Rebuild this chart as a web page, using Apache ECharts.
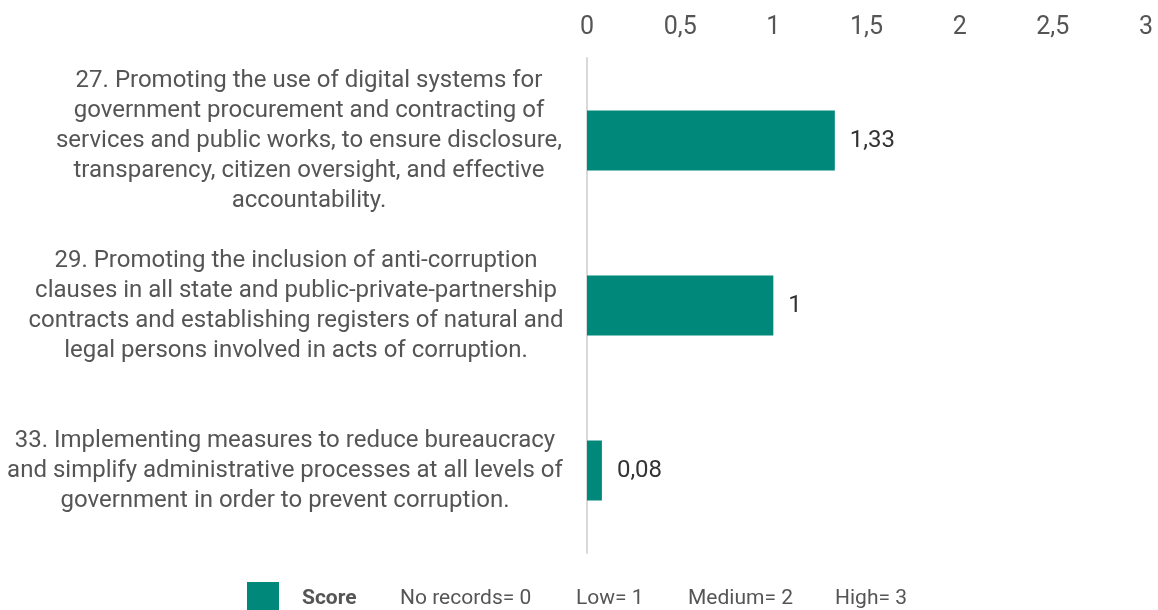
<!DOCTYPE html>
<html>
<head>
<meta charset="utf-8">
<script src="https://cdn.jsdelivr.net/npm/echarts@6/dist/echarts.min.js"></script>
<style>
  html, body { margin: 0; padding: 0; background: #ffffff; }
  #chart { width: 1158px; height: 610px; }
</style>
</head>
<body>
<div id="chart"></div>
<script>
// Measures, wrapped into lines as they are printed beside the bars
const categories = [
  '27. Promoting the use of digital systems for\ngovernment procurement and contracting of\nservices and public works, to ensure disclosure,\ntransparency, citizen oversight, and effective\naccountability.',
  '29. Promoting the inclusion of anti-corruption\nclauses in all state and public-private-partnership\ncontracts and establishing registers of natural and\nlegal persons involved in acts of corruption.',
  '33. Implementing measures to reduce bureaucracy\nand simplify administrative processes at all levels of\ngovernment in order to prevent corruption.'
];
const scores = [1.33, 1, 0.08];
const scaleKey = ['No records= 0', 'Low= 1', 'Medium= 2', 'High= 3'];

const TEAL = '#00897B';
const comma = v => String(v).replace('.', ',');

// each label block is right-aligned on the axis, its lines centred inside the block
const blockWidths = [508, 534, 556];
const labelRich = {};
blockWidths.forEach((w, i) => {
  labelRich['b' + i] = { width: w, align: 'center', fontSize: 24, lineHeight: 30, color: '#555', fontFamily: 'Roboto' };
});

const chart = echarts.init(document.getElementById('chart'), null, { renderer: 'canvas' });

chart.setOption({
  animation: false,
  textStyle: { fontFamily: 'Roboto' },
  grid: {
    left: 587, right: 12, top: 58, bottom: 57,
    containLabel: false,
    outerBoundsMode: 'none'
  },
  xAxis: {
    type: 'value',
    position: 'top',
    min: 0,
    max: 3,
    interval: 0.5,
    axisLine: { show: false },
    axisTick: { show: false },
    splitLine: { show: false },
    axisLabel: {
      fontSize: 25,
      color: '#555',
      margin: 18,
      formatter: v => comma(v)
    }
  },
  yAxis: {
    type: 'category',
    inverse: true,
    data: categories,
    axisLine: { show: true, lineStyle: { color: '#d9d9d9', width: 2 } },
    axisTick: { show: false },
    axisLabel: {
      margin: 24,
      align: 'right',
      formatter: (value, idx) => value.split('\n').map(l => '{b' + idx + '|' + l + '}').join('\n'),
      rich: labelRich
    }
  },
  legend: {
    left: 242,
    bottom: -7,
    itemWidth: 32,
    itemHeight: 30,
    icon: 'rect',
    selectedMode: false,
    data: ['Score'],
    formatter: name =>
      '{gap|}{s|' + name + '}' +
      '{n|' + scaleKey[0] + '}{l|' + scaleKey[1] + '}{m|' + scaleKey[2] + '}{h|' + scaleKey[3] + '}',
    textStyle: {
      fontSize: 21,
      color: '#555',
      padding: [3, 0, 0, 0],
      rich: {
        gap: { width: 18 },
        s: { width: 98, fontSize: 21, fontWeight: 'bold', color: '#555' },
        n: { width: 176, fontSize: 21, color: '#555' },
        l: { width: 112, fontSize: 21, color: '#555' },
        m: { width: 147, fontSize: 21, color: '#555' },
        h: { fontSize: 21, color: '#555' }
      }
    }
  },
  series: [{
    name: 'Score',
    type: 'bar',
    data: scores,
    barWidth: 60,
    itemStyle: { color: TEAL },
    label: {
      show: true,
      position: 'right',
      distance: 15,
      fontSize: 24,
      color: '#333',
      formatter: p => comma(p.value)
    }
  }]
});
</script>
</body>
</html>
